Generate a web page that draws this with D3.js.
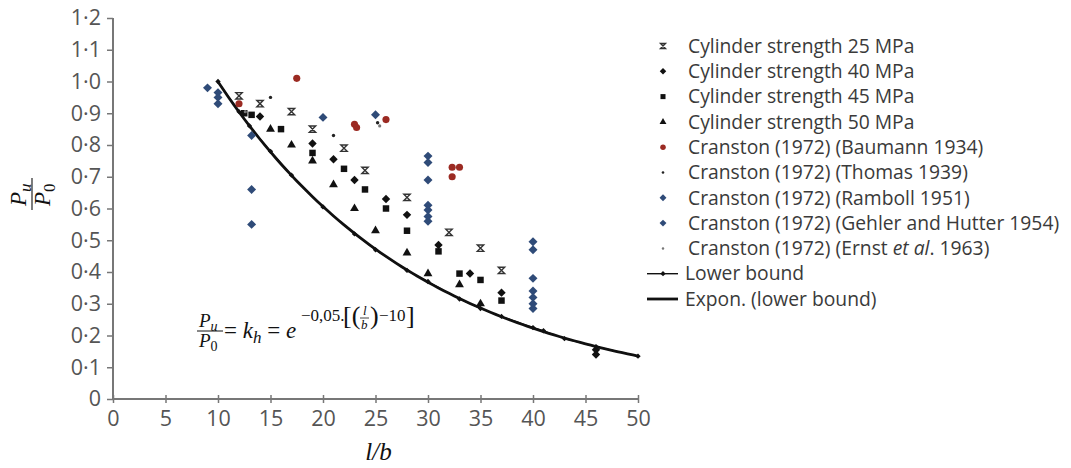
<!DOCTYPE html>
<html>
<head>
<meta charset="utf-8">
<script src="https://cdn.jsdelivr.net/npm/d3@7"></script>
<style>
  body { margin: 0; background: #fff; }
  svg { font-family: "Open Sans", sans-serif; }
  .math { font-family: "Liberation Serif", serif; fill: #111; }
</style>
</head>
<body>
<svg id="chart" width="1071" height="468"></svg>
<script>
// values: [l/b, Pu/P0]
const cyl25 = [[12, 0.955], [14, 0.93], [17, 0.905], [19, 0.85], [22, 0.79], [24, 0.72],
  [28, 0.635], [32, 0.525], [35, 0.475], [37, 0.405]];
const cyl40 = [[14, 0.89], [19, 0.805], [21, 0.755], [23, 0.69], [26, 0.63], [28, 0.58],
  [31, 0.485], [34, 0.395], [37, 0.335], [46, 0.155], [46, 0.14]];
const cyl45 = [[12.5, 0.9], [13.2, 0.895], [16, 0.85], [19, 0.775], [22, 0.725], [24, 0.66],
  [26, 0.6], [28, 0.53], [31, 0.465], [33, 0.395], [35, 0.375], [37, 0.31]];
const cyl50 = [[15, 0.85], [17, 0.8], [19, 0.75], [21, 0.675], [23, 0.6], [25, 0.53],
  [28, 0.46], [30, 0.395], [33, 0.36], [35, 0.3]];
const baumann = [[12, 0.93], [17.5, 1.01], [23, 0.865], [23.2, 0.855], [26, 0.88],
  [32.3, 0.73], [33, 0.73], [32.3, 0.7]];
const thomas = [[15, 0.95], [21, 0.83], [25.2, 0.87]];
const ramboll = [[9, 0.98], [10, 0.965], [10, 0.95], [10, 0.93], [13.2, 0.83], [13.2, 0.66],
  [13.2, 0.55], [20, 0.887], [25, 0.895]];
const gehler = [[30, 0.765], [30, 0.745], [30, 0.69], [30, 0.61], [30, 0.595], [30, 0.575],
  [30, 0.56], [40, 0.495], [40, 0.47], [40, 0.38], [40, 0.34], [40, 0.32], [40, 0.3], [40, 0.285]];
const ernst = [[12.6, 0.905], [25.4, 0.86]];
const lowerBound = [[10, 1.0], [12, 0.905], [13, 0.86], [15, 0.78], [17, 0.705], [20, 0.605],
  [23, 0.52], [25, 0.47], [28, 0.405], [30, 0.37], [33, 0.315], [35, 0.285], [37, 0.26],
  [40, 0.225], [41, 0.215], [43, 0.19], [46, 0.165], [50, 0.135]];

const xTicks = [0, 5, 10, 15, 20, 25, 30, 35, 40, 45, 50];
const yTicks = [0, 0.1, 0.2, 0.3, 0.4, 0.5, 0.6, 0.7, 0.8, 0.9, 1.0, 1.1, 1.2];
const legendLabels = ['Cylinder strength 25 MPa', 'Cylinder strength 40 MPa',
  'Cylinder strength 45 MPa', 'Cylinder strength 50 MPa', 'Cranston (1972) (Baumann 1934)',
  'Cranston (1972) (Thomas 1939)', 'Cranston (1972) (Ramboll 1951)',
  'Cranston (1972) (Gehler and Hutter 1954)', 'Cranston (1972) (Ernst et al. 1963)',
  'Lower bound', 'Expon. (lower bound)'];

const svg = d3.select('#chart');
const margin = {left: 113, top: 18};
const width = 525, height = 381;

const x = d3.scaleLinear().domain([0, 50]).range([margin.left, margin.left + width]);
const y = d3.scaleLinear().domain([0, 1.2]).range([margin.top + height, margin.top]);

const fmt = d => d === 0 ? '0' : d3.format('.1f')(d).replace('.', '\u00b7');

// custom marker shapes
const hourglass = {
  draw(ctx, size) {
    const r = Math.sqrt(size) / 2;
    ctx.moveTo(-r, -r); ctx.lineTo(r, -r); ctx.lineTo(-r, r); ctx.lineTo(r, r); ctx.closePath();
  }
};
const rhomb = {
  draw(ctx, size) {
    const r = Math.sqrt(size) / 1.5;
    ctx.moveTo(0, -r); ctx.lineTo(r, 0); ctx.lineTo(0, r); ctx.lineTo(-r, 0); ctx.closePath();
  }
};

const navy = '#2f4b78';
const series = [
  {data: cyl25, type: hourglass, size: 40, fill: 'none', stroke: '#333', sw: 1.4},
  {data: cyl40, type: rhomb, size: 40, fill: '#111'},
  {data: cyl45, type: d3.symbolSquare, size: 42, fill: '#111'},
  {data: cyl50, type: d3.symbolTriangle, size: 34, fill: '#111'},
  {data: baumann, type: d3.symbolCircle, size: 40, fill: '#9b2a22'},
  {data: thomas, type: d3.symbolCircle, size: 9, fill: '#222'},
  {data: ramboll, type: rhomb, size: 45, fill: navy},
  {data: gehler, type: rhomb, size: 45, fill: navy},
  {data: ernst, type: d3.symbolCircle, size: 8, fill: '#777'}
];

// axes
const xAxis = svg.append('g')
  .attr('transform', `translate(0,${margin.top + height})`)
  .call(d3.axisBottom(x).tickValues(xTicks).tickSize(4).tickPadding(8));
xAxis.selectAll('.tick line').attr('y1', -4).attr('stroke', '#777').attr('stroke-width', 1.5);
xAxis.select('.domain').attr('stroke', '#777').attr('stroke-width', 2)
  .attr('d', `M${x(0)},0H${x(50)}`);

const yAxis = svg.append('g')
  .attr('transform', `translate(${margin.left},0)`)
  .call(d3.axisLeft(y).tickValues(yTicks).tickFormat(fmt).tickSize(6).tickPadding(6));
yAxis.selectAll('.tick line').attr('stroke', '#777').attr('stroke-width', 1.5);
yAxis.select('.domain').attr('stroke', '#777').attr('stroke-width', 2)
  .attr('d', `M0,${y(0)}V${y(1.2)}`);

[xAxis, yAxis].forEach(a => a.selectAll('.tick text')
  .attr('font-family', '"Open Sans", sans-serif')
  .attr('font-size', 21.5)
  .attr('fill', '#555'));

// exponential trendline, fitted to the lower bound points
const reg = lowerBound.reduce((acc, [lx, ly]) => {
  const ln = Math.log(ly);
  acc.n++; acc.sx += lx; acc.sy += ln; acc.sxx += lx * lx; acc.sxy += lx * ln;
  return acc;
}, {n: 0, sx: 0, sy: 0, sxx: 0, sxy: 0});
const slope = (reg.n * reg.sxy - reg.sx * reg.sy) / (reg.n * reg.sxx - reg.sx * reg.sx);
const icpt = (reg.sy - slope * reg.sx) / reg.n;
const trendPts = d3.range(10, 50.01, 0.5).map(v => [v, Math.exp(icpt + slope * v)]);

const line = d3.line().x(d => x(d[0])).y(d => y(d[1]));
svg.append('path').datum(trendPts).attr('d', line)
  .attr('fill', 'none').attr('stroke', '#111').attr('stroke-width', 2.8);
svg.append('path').datum(lowerBound).attr('d', line)
  .attr('fill', 'none').attr('stroke', '#111').attr('stroke-width', 1.2);
svg.append('g').selectAll('path').data(lowerBound).join('path')
  .attr('transform', d => `translate(${x(d[0])},${y(d[1])})`)
  .attr('d', d3.symbol().type(rhomb).size(16)).attr('fill', '#111');

// scatter series
series.forEach(s => {
  svg.append('g').selectAll('path').data(s.data).join('path')
    .attr('transform', d => `translate(${x(d[0])},${y(d[1])})`)
    .attr('d', d3.symbol().type(s.type).size(s.size))
    .attr('fill', s.fill)
    .attr('stroke', s.stroke || 'none')
    .attr('stroke-width', s.sw || 0);
});

// legend
const legend = svg.append('g').attr('transform', 'translate(663,46)');
const rowH = 25.3;
legendLabels.forEach((lab, i) => {
  const g = legend.append('g').attr('transform', `translate(0,${i * rowH})`);
  if (i < series.length) {
    const s = series[i];
    g.append('path').attr('d', d3.symbol().type(s.type).size(s.size * 0.6))
      .attr('fill', s.fill).attr('stroke', s.stroke || 'none').attr('stroke-width', s.sw || 0);
  } else {
    g.append('line').attr('x1', -16).attr('x2', 15).attr('stroke', '#111')
      .attr('stroke-width', i === 9 ? 1.4 : 2.8);
    if (i === 9) g.append('path').attr('d', d3.symbol().type(rhomb).size(16)).attr('fill', '#111');
  }
  const t = g.append('text').attr('x', i < series.length ? 25 : 22).attr('dy', '0.35em')
    .attr('font-size', 19.3).attr('fill', '#3a3a3a');
  if (i === 8) {
    t.append('tspan').text('Cranston (1972) (Ernst ');
    t.append('tspan').attr('font-style', 'italic').text('et al');
    t.append('tspan').text('. 1963)');
  } else {
    t.text(lab);
  }
});

// axis titles
svg.append('text').attr('class', 'math').attr('x', x(25) + 3).attr('y', 460)
  .attr('text-anchor', 'middle').attr('font-size', 25).attr('font-style', 'italic').text('l/b');

const yl = svg.append('g').attr('transform', 'translate(32,194) rotate(-90)');
yl.append('line').attr('x1', -16).attr('x2', 16).attr('stroke', '#111').attr('stroke-width', 1.1);
const num = yl.append('text').attr('class', 'math').attr('x', -12).attr('y', -6).attr('font-size', 23);
num.append('tspan').attr('font-style', 'italic').text('P');
num.append('tspan').attr('font-style', 'italic').attr('font-size', 17).attr('dy', 5).text('u');
const den = yl.append('text').attr('class', 'math').attr('x', -12).attr('y', 18).attr('font-size', 23);
den.append('tspan').attr('font-style', 'italic').text('P');
den.append('tspan').attr('font-size', 17).attr('dy', 5).text('0');

// equation
const eq = svg.append('g').attr('transform', 'translate(197,331)');
eq.append('line').attr('x1', 0).attr('x2', 26).attr('stroke', '#111').attr('stroke-width', 1);
const en = eq.append('text').attr('class', 'math').attr('x', 2).attr('y', -4).attr('font-size', 19);
en.append('tspan').attr('font-style', 'italic').text('P');
en.append('tspan').attr('font-style', 'italic').attr('font-size', 14).attr('dy', 4).text('u');
const ed = eq.append('text').attr('class', 'math').attr('x', 2).attr('y', 16).attr('font-size', 19);
ed.append('tspan').attr('font-style', 'italic').text('P');
ed.append('tspan').attr('font-size', 14).attr('dy', 4).text('0');
const er = eq.append('text').attr('class', 'math').attr('x', 27).attr('y', 7).attr('font-size', 23);
er.append('tspan').text('= ');
er.append('tspan').attr('font-style', 'italic').text('k');
er.append('tspan').attr('font-style', 'italic').attr('font-size', 17).attr('dy', 5).text('h');
er.append('tspan').attr('dy', -5).text(' = ');
er.append('tspan').attr('font-style', 'italic').text('e');
// superscript with a stacked l over b
const sup = eq.append('g').attr('transform', 'translate(104,-10)');
sup.append('text').attr('class', 'math').attr('font-size', 17).text('\u22120,05.');
sup.append('text').attr('class', 'math').attr('x', 42).attr('y', 3).attr('font-size', 26).text('[(');
sup.append('text').attr('class', 'math').attr('x', 62).attr('y', -6).attr('font-size', 13)
  .attr('font-style', 'italic').text('l');
sup.append('text').attr('class', 'math').attr('x', 60).attr('y', 8).attr('font-size', 13)
  .attr('font-style', 'italic').text('b');
sup.append('line').attr('x1', 59).attr('x2', 68).attr('y1', -3).attr('y2', -3)
  .attr('stroke', '#111').attr('stroke-width', 0.8);
sup.append('text').attr('class', 'math').attr('x', 69).attr('y', 3).attr('font-size', 26).text(')');
sup.append('text').attr('class', 'math').attr('x', 78).attr('font-size', 17).text('\u221210');
sup.append('text').attr('class', 'math').attr('x', 105).attr('y', 3).attr('font-size', 26).text(']');
</script>
</body>
</html>
